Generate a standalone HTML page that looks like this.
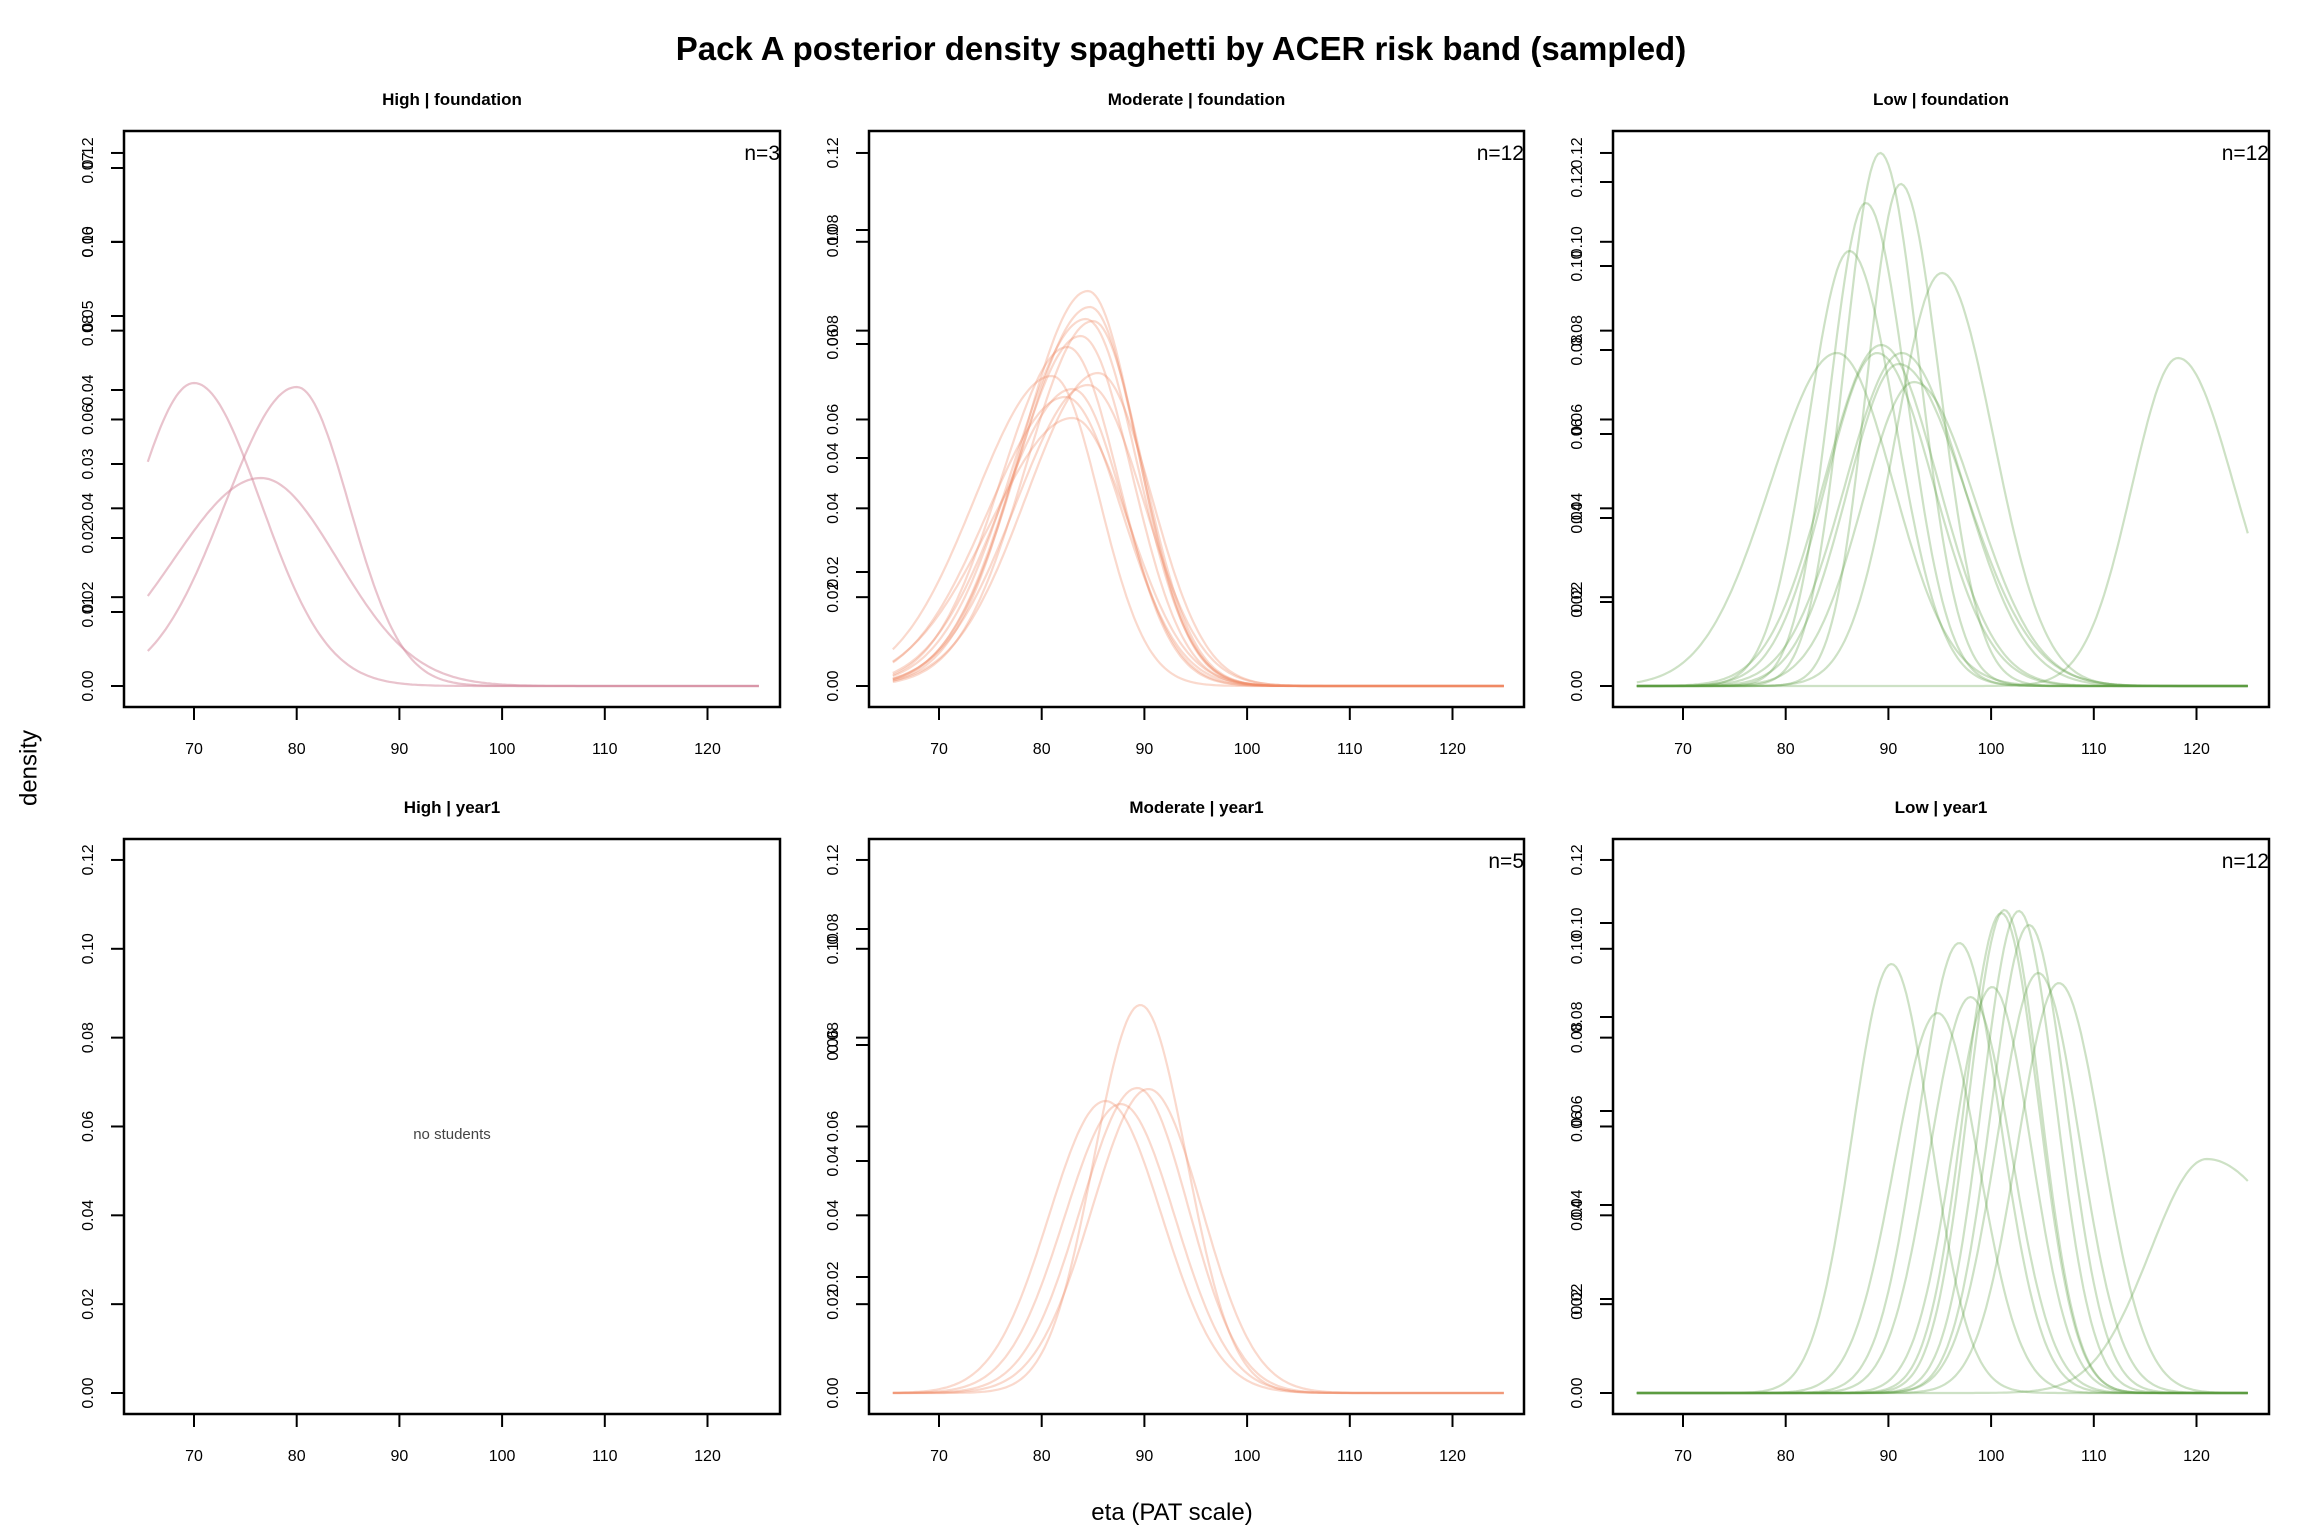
<!DOCTYPE html>
<html><head><meta charset="utf-8">
<style>
html,body{margin:0;padding:0;background:#fff;}
svg{display:block;font-family:"Liberation Sans",Arial,sans-serif;}
</style></head>
<body>
<svg id="s" xmlns="http://www.w3.org/2000/svg" width="2304" height="1536" viewBox="0 0 2304 1536">
<rect width="2304" height="1536" fill="#fff"/>
<text x="1181" y="60" font-size="33" font-weight="bold" text-anchor="middle">Pack A posterior density spaghetti by ACER risk band (sampled)</text>
<text transform="translate(30,768) rotate(-90)" font-size="24" text-anchor="middle" dominant-baseline="middle">density</text>
<text x="1172" y="1520" font-size="24" text-anchor="middle">eta (PAT scale)</text>
</svg>
<script>
(function(){
var s=document.getElementById('s'),NS='http://www.w3.org/2000/svg';
function el(n,a,t){var e=document.createElementNS(NS,n);for(var k in a)e.setAttribute(k,a[k]);if(t!=null)e.textContent=t;s.appendChild(e);return e;}
var cols=[[124,780],[869,1524],[1613,2269]];
var rows=[[131,707,686,99],[839,1414,1393,807]];
var panels=[
{c:0,r:0,title:'High | foundation',n:'n=3',col:'#d4879c',op:0.5,
 B:{step:74,vals:['0.01','0.02','0.03','0.04','0.05','0.06','0.07']},
 cv:[[70,303,5.8,6.5],[80,299,7,5.1],[76.5,208,8.5,7.5]]},
{c:1,r:0,title:'Moderate | foundation',n:'n=12',col:'#ef8a62',op:0.32,
 B:{step:114,vals:['0.02','0.04','0.06','0.08']},
 cv:[[84.5,395,6.5,4.8],[84.7,379,6.8,4.8],[84.3,367,7,5],[85,365,6.5,4.8],[83.8,350,6.5,5],[82.5,339,6.5,5],[85.5,313,7,5.2],[81,310,7.5,4.6],[84.5,301,7,5.5],[83,297,7,5],[82.3,289,7.5,5.5],[83,268,8,5.5]]},
{c:2,r:0,title:'Low | foundation',n:'n=12',col:'#5a9a40',op:0.3,
 B:{step:84,vals:['0.02','0.04','0.06','0.08','0.10','0.12']},
 cv:[[89.2,533,3.5,3.8],[91.2,502,3.3,3.8],[87.8,483,3.5,4.0],[86.2,435,4.0,4.5],[95.2,413,4.5,5.0],[89.3,341,5.5,5.5],[91.3,333,5.5,6],[85,333,6.5,5.5],[88.9,333,5,5.5],[91,322,5,6.5],[92.5,304,5,6],[118.2,328,4.5,5.5]]},
{c:0,r:1,title:'High | year1',n:null,B:null,cv:[]},
{c:1,r:1,title:'Moderate | year1',n:'n=5',col:'#ef8a62',op:0.32,
 B:{step:116,vals:['0.02','0.04','0.06','0.08']},
 cv:[[89.6,388,4.5,4.5],[89.3,305,5.5,5],[90.4,304,5.5,5.2],[86.2,292,5.5,5.5],[87.7,289,5.5,5.3]]},
{c:2,r:1,title:'Low | year1',n:'n=12',col:'#5a9a40',op:0.3,
 B:{step:94,vals:['0.02','0.04','0.06','0.08','0.10']},
 cv:[[90.3,429,3.8,3.8],[94.8,380,4.2,4],[96.9,450,4,4],[98,396,4,4],[100.1,406,3.8,3.8],[101.3,483,3.5,3.5],[101,480,3.6,3.6],[102.7,482,3.6,3.6],[103.7,468,3.7,3.7],[104.6,420,4,4],[106.6,410,4,4.2],[121,234,5.5,9]]}
];
panels.forEach(function(p){
 var L=cols[p.c][0],R=cols[p.c][1],T=rows[p.r][0],Bt=rows[p.r][1],y0=rows[p.r][2],ty=rows[p.r][3];
 function X(v){return L+70+(v-70)*10.27;}
 p.cv.forEach(function(c){
  var d='';
  for(var v=65.5;v<=125.001;v+=0.25){
   var sd=v<c[0]?c[2]:c[3];var h=c[1]*Math.exp(-(v-c[0])*(v-c[0])/(2*sd*sd));
   d+=(d?'L':'M')+X(v).toFixed(1)+' '+(y0-h).toFixed(1);
  }
  el('path',{d:d,fill:'none',stroke:p.col,'stroke-opacity':p.op,'stroke-width':2.2});
 });
 el('rect',{x:L,y:T,width:R-L,height:Bt-T,fill:'none',stroke:'#000','stroke-width':2.5});
 el('text',{x:(L+R)/2,y:ty+6,'font-size':17,'font-weight':'bold','text-anchor':'middle'},p.title);
 if(p.n) el('text',{x:R,y:T+29,'font-size':21,'text-anchor':'end'},p.n);
 if(!p.cv.length) el('text',{x:(L+R)/2,y:1139,'font-size':15,fill:'#444','text-anchor':'middle'},'no students');
 for(var v=70;v<=120;v+=10){
  el('line',{x1:X(v),y1:Bt,x2:X(v),y2:Bt+13,stroke:'#000','stroke-width':2});
  el('text',{x:X(v),y:Bt+47,'font-size':16,'text-anchor':'middle'},String(v));
 }
 function ytick(y,lab){
  el('line',{x1:L-13,y1:y,x2:L,y2:y,stroke:'#000','stroke-width':2});
  el('text',{transform:'translate('+(L-31)+','+y+') rotate(-90)','font-size':16,'text-anchor':'middle'},lab);
 }
 var sl=['0.00','0.02','0.04','0.06','0.08','0.10','0.12'];
 for(var i=0;i<7;i++) ytick(y0-i*0.02*4442,sl[i]);
 if(p.B){p.B.vals.forEach(function(lab,i){ytick(y0-(i+1)*p.B.step,lab);});}
});
})();
</script>
</body></html>
